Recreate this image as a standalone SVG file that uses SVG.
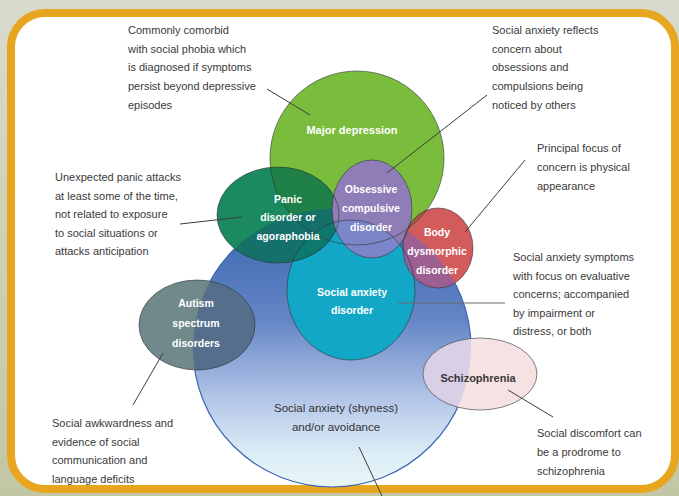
<svg xmlns="http://www.w3.org/2000/svg" xmlns:xlink="http://www.w3.org/1999/xlink" width="679" height="496" viewBox="0 0 679 496">
  <style>
    .note { font-family: "Liberation Sans", Arial, sans-serif; font-size: 11px; fill: #3a3a3a; }
    .lbl { font-family: "Liberation Sans", Arial, sans-serif; font-size: 10.5px; font-weight: bold; fill: #ffffff; text-anchor: middle; }
    .dark { font-family: "Liberation Sans", Arial, sans-serif; font-size: 11.5px; fill: #333333; text-anchor: middle; }
    .lead { stroke: #3d3d3d; stroke-width: 1; fill: none; }
    .edge { fill: none; stroke: #2d3436; stroke-width: 0.8; stroke-opacity: 0.75; }
  </style>
  <defs>
    <linearGradient id="bg" x1="0" y1="0" x2="0" y2="1">
      <stop offset="0" stop-color="#d8dbcc"/>
      <stop offset="0.5" stop-color="#cdd0b5"/>
      <stop offset="1" stop-color="#c3c6a3"/>
    </linearGradient>
    <linearGradient id="blueFade" gradientUnits="userSpaceOnUse" x1="0" y1="209" x2="0" y2="487">
      <stop offset="0" stop-color="#3761ad"/>
      <stop offset="0.4" stop-color="#6486c6"/>
      <stop offset="0.68" stop-color="#b3c5e8"/>
      <stop offset="0.88" stop-color="#dcedf6"/>
      <stop offset="1" stop-color="#e6f6f8"/>
    </linearGradient>

    <!-- base shapes, reused for fills, overlaps and outlines -->
    <circle id="sBig" cx="332" cy="348" r="139"/>
    <circle id="sGreen" cx="357" cy="158" r="87"/>
    <ellipse id="sCyan" cx="351" cy="290" rx="64" ry="70"/>
    <ellipse id="sPanic" cx="278" cy="215" rx="61" ry="48"/>
    <ellipse id="sOcd" cx="372" cy="209" rx="40" ry="49"/>
    <ellipse id="sBody" cx="438" cy="248" rx="35" ry="40"/>
    <ellipse id="sAut" cx="197" cy="325" rx="58" ry="45"/>
    <ellipse id="sSch" cx="480" cy="374" rx="57" ry="36"/>

    <clipPath id="cBig"><use xlink:href="#sBig"/></clipPath>
    <clipPath id="cGreen"><use xlink:href="#sGreen"/></clipPath>
    <clipPath id="cCyan"><use xlink:href="#sCyan"/></clipPath>
    <clipPath id="cPanic"><use xlink:href="#sPanic"/></clipPath>
    <clipPath id="cOcd"><use xlink:href="#sOcd"/></clipPath>
    <clipPath id="cBody"><use xlink:href="#sBody"/></clipPath>
    <clipPath id="cAut"><use xlink:href="#sAut"/></clipPath>
    <clipPath id="cSch"><use xlink:href="#sSch"/></clipPath>
  </defs>

  <!-- backdrop and rounded orange frame -->
  <rect x="0" y="0" width="679" height="496" fill="url(#bg)"/>
  <rect x="11" y="13" width="664" height="476" rx="34" ry="34" fill="#ffffff" stroke="#e8a51f" stroke-width="8"/>

  <!-- outer field: social anxiety (shyness) and/or avoidance -->
  <g id="node-shyness">
    <use xlink:href="#sBig" fill="url(#blueFade)" stroke="#3b65b0" stroke-width="1.2"/>
  </g>

  <g id="node-major-depression">
    <use xlink:href="#sGreen" fill="#7abc3c"/>
  </g>

  <g id="node-social-anxiety-disorder">
    <use xlink:href="#sCyan" fill="#13a7c7"/>
  </g>

  <g id="node-panic">
    <use xlink:href="#sPanic" fill="#1b8a5e"/>
    <g clip-path="url(#cPanic)">
      <use xlink:href="#sGreen" fill="#1f8048"/>
      <use xlink:href="#sBig" fill="#15706a"/>
      <use xlink:href="#sCyan" fill="#0e786c"/>
    </g>
  </g>

  <g id="node-ocd">
    <use xlink:href="#sOcd" fill="#8f7db7"/>
    <g clip-path="url(#cOcd)">
      <use xlink:href="#sCyan" fill="#7a86c9"/>
    </g>
  </g>

  <g id="node-body-dysmorphic">
    <use xlink:href="#sBody" fill="#d25c5c"/>
    <g clip-path="url(#cBody)">
      <use xlink:href="#sGreen" fill="#a65a40"/>
      <use xlink:href="#sBig" fill="#9d5f92"/>
      <use xlink:href="#sCyan" fill="#8e63a0"/>
      <use xlink:href="#sOcd" fill="#a0628f"/>
    </g>
  </g>

  <g id="node-autism">
    <use xlink:href="#sAut" fill="#72898b"/>
    <g clip-path="url(#cAut)">
      <use xlink:href="#sBig" fill="#546e8c"/>
    </g>
  </g>

  <g id="node-schizophrenia">
    <use xlink:href="#sSch" fill="#f6e2e2"/>
    <g clip-path="url(#cSch)">
      <use xlink:href="#sBig" fill="#d7d0e6"/>
    </g>
  </g>

  <!-- thin outlines of every region, visible through the overlaps -->
  <g id="outlines" class="edge">
    <use xlink:href="#sGreen"/>
    <use xlink:href="#sCyan"/>
    <use xlink:href="#sPanic"/>
    <use xlink:href="#sOcd"/>
    <use xlink:href="#sBody"/>
    <use xlink:href="#sAut"/>
    <use xlink:href="#sSch"/>
  </g>

  <!-- region labels -->
  <g id="labels">
    <text class="lbl" x="352" y="134" style="font-size:11px">Major depression</text>
    <text class="lbl" x="288" y="203">Panic</text>
    <text class="lbl" x="288" y="221">disorder or</text>
    <text class="lbl" x="288" y="240">agoraphobia</text>
    <text class="lbl" x="371" y="193">Obsessive</text>
    <text class="lbl" x="371" y="212">compulsive</text>
    <text class="lbl" x="371" y="231">disorder</text>
    <text class="lbl" x="437" y="236">Body</text>
    <text class="lbl" x="437" y="255">dysmorphic</text>
    <text class="lbl" x="437" y="274">disorder</text>
    <text class="lbl" x="352" y="296">Social anxiety</text>
    <text class="lbl" x="352" y="314">disorder</text>
    <text class="lbl" x="196" y="307">Autism</text>
    <text class="lbl" x="196" y="327">spectrum</text>
    <text class="lbl" x="196" y="347">disorders</text>
    <text class="dark" x="478" y="382" style="font-size:11px;font-weight:bold;fill:#3a3a3a">Schizophrenia</text>
    <text class="dark" x="336" y="412">Social anxiety (shyness)</text>
    <text class="dark" x="336" y="431">and/or avoidance</text>
  </g>

  <!-- leader lines from notes to regions -->
  <g id="connectors" class="lead">
    <line x1="267" y1="89" x2="310" y2="115"/>
    <line x1="487" y1="95" x2="387" y2="173"/>
    <line x1="525" y1="160" x2="465" y2="232"/>
    <line x1="398" y1="303" x2="505" y2="303" stroke="#6b6b6b"/>
    <line x1="180" y1="224" x2="242" y2="217"/>
    <line x1="133" y1="405" x2="163" y2="353"/>
    <line x1="508" y1="390" x2="553" y2="417"/>
    <line x1="359" y1="447" x2="382" y2="496"/>
  </g>

  <!-- explanatory notes -->
  <g id="notes">
    <text class="note" x="128" y="34">Commonly comorbid</text>
    <text class="note" x="128" y="52.7">with social phobia which</text>
    <text class="note" x="128" y="71.4">is diagnosed if symptoms</text>
    <text class="note" x="128" y="90.1">persist beyond depressive</text>
    <text class="note" x="128" y="108.8">episodes</text>

    <text class="note" x="492" y="34">Social anxiety reflects</text>
    <text class="note" x="492" y="52.7">concern about</text>
    <text class="note" x="492" y="71.4">obsessions and</text>
    <text class="note" x="492" y="90.1">compulsions being</text>
    <text class="note" x="492" y="108.8">noticed by others</text>

    <text class="note" x="537" y="152">Principal focus of</text>
    <text class="note" x="537" y="171">concern is physical</text>
    <text class="note" x="537" y="190">appearance</text>

    <text class="note" x="513" y="261">Social anxiety symptoms</text>
    <text class="note" x="513" y="279.5">with focus on evaluative</text>
    <text class="note" x="513" y="298">concerns; accompanied</text>
    <text class="note" x="513" y="316.5">by impairment or</text>
    <text class="note" x="513" y="335">distress, or both</text>

    <text class="note" x="55" y="181">Unexpected panic attacks</text>
    <text class="note" x="55" y="199.5">at least some of the time,</text>
    <text class="note" x="55" y="218">not related to exposure</text>
    <text class="note" x="55" y="236.5">to social situations or</text>
    <text class="note" x="55" y="255">attacks anticipation</text>

    <text class="note" x="52" y="427">Social awkwardness and</text>
    <text class="note" x="52" y="445.5">evidence of social</text>
    <text class="note" x="52" y="464">communication and</text>
    <text class="note" x="52" y="482.5">language deficits</text>

    <text class="note" x="537" y="437">Social discomfort can</text>
    <text class="note" x="537" y="456">be a prodrome to</text>
    <text class="note" x="537" y="475">schizophrenia</text>
  </g>
</svg>
